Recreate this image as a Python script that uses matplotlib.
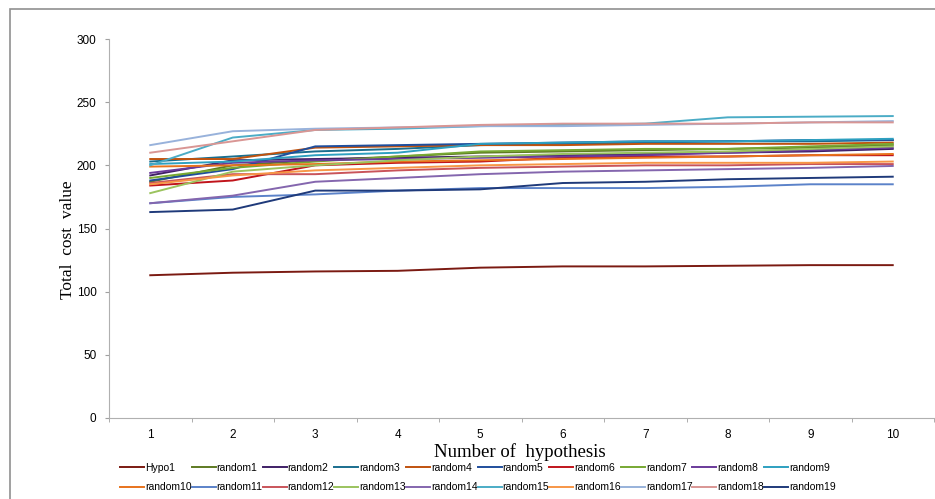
import numpy as np
import matplotlib.pyplot as plt
from matplotlib.patches import Rectangle

# hypothesis count on the x axis
x = [1, 2, 3, 4, 5, 6, 7, 8, 9, 10]

hypo1 = [113, 115, 116, 116.5, 119, 120, 120, 120.5, 121, 121]
random1 = [187, 200, 204, 207, 210, 211, 212, 213, 214, 216]
random2 = [192, 204, 205, 206, 207, 208, 209, 210, 211, 213]
random3 = [203, 207, 211, 213, 216, 217, 218, 219, 219, 220]
random4 = [205, 205, 214, 215, 216, 216, 217, 217, 217, 218]
random5 = [188, 197, 215, 216, 217, 218, 219, 219, 220, 220]
random6 = [184, 188, 200, 202, 203, 206, 207, 207, 208, 208]
random7 = [190, 198, 203, 207, 211, 212, 213, 213, 215, 217]
random8 = [194, 202, 204, 205, 206, 207, 208, 210, 212, 214]
random9 = [201, 203, 208, 210, 217, 218, 219, 219, 220, 221]
random10 = [199, 200, 201, 203, 204, 205, 206, 207, 208, 209]
random11 = [170, 175, 177, 180, 182, 182, 182, 183, 185, 185]
random12 = [186, 193, 193, 196, 198, 199, 200, 200, 201, 201]
random13 = [178, 195, 200, 204, 207, 209, 210, 211, 213, 215]
random14 = [170, 176, 187, 190, 193, 195, 196, 197, 198, 199.5]
random15 = [200, 222, 228, 229, 231, 232, 233, 238, 238.5, 239]
random16 = [185, 192, 196, 198, 200, 201, 202, 202, 202, 203]
random17 = [216, 227, 229, 230, 231, 231, 232, 233, 234, 235]
random18 = [210, 219, 228, 230, 232, 233, 233, 233, 234, 234]
random19 = [163, 165, 180, 180, 181, 186, 187, 189, 190, 191]

names = ["Hypo1"] + ["random%d" % i for i in range(1, 20)]
series = [hypo1, random1, random2, random3, random4, random5, random6, random7,
          random8, random9, random10, random11, random12, random13, random14,
          random15, random16, random17, random18, random19]
colors = ["#7B1A12", "#5E7A22", "#3F1F66", "#1A6E8E", "#C0520E", "#1F4E9C",
          "#C0141B", "#77A832", "#6A3A9A", "#2EA0C0", "#E8731D", "#5B82C9",
          "#C9545A", "#9BC35E", "#8466AE", "#4BACC6", "#F79646", "#98B2DB",
          "#D99694", "#1F3A7A"]

plt.rcParams['font.family'] = 'Liberation Sans'
fig = plt.figure(figsize=(9.35, 4.99), dpi=100)
ax = fig.add_axes([109/935, 1-418/499, 825/935, 379/499])

lines = []
for s, c, n in zip(series, colors, names):
    lines += ax.plot(x, s, color=c, lw=1.4, label=n)

ax.set_xlim(0.5, 10.5)
ax.set_ylim(0, 300)
ax.set_xticks(x)
ax.set_xticks(np.arange(0.5, 11, 1), minor=True)
ax.set_yticks(range(0, 301, 50))
ax.tick_params(axis='x', which='major', length=0, labelsize=8.5, pad=8)
ax.tick_params(axis='x', which='minor', length=3, color='#A0A0A0', direction='out')
ax.tick_params(axis='y', length=3, color='#A0A0A0', labelsize=8.5, pad=6)
for sp in ['top', 'right']:
    ax.spines[sp].set_visible(False)
for sp in ['left', 'bottom']:
    ax.spines[sp].set_color('#B0B0B0')

fig.text(68/935, 1-240/499, "Total  cost  value", family='Liberation Serif',
         fontsize=12.5, rotation=90, ha='center', va='center')
fig.text(520/935, 1-452/499, "Number of  hypothesis", family='Liberation Serif',
         fontsize=13.5, ha='center', va='center')

# legend filled row by row, like the original
order = []
for j in range(10):
    order += [j, j + 10]
fig.legend([lines[i] for i in order], [names[i] for i in order],
           loc='upper left', bbox_to_anchor=(120/935, 1-463/499), ncol=10,
           frameon=False, fontsize=7.5, handlelength=2.3, handletextpad=0.1,
           columnspacing=0.0, labelspacing=0.9, borderaxespad=0, borderpad=0)

fig.patches.append(Rectangle((10/935, -0.1), 1.1, 1-9/499+0.1, transform=fig.transFigure,
                             fill=False, edgecolor='#909090', lw=1.2))

fig.savefig("out.png", dpi=100)
